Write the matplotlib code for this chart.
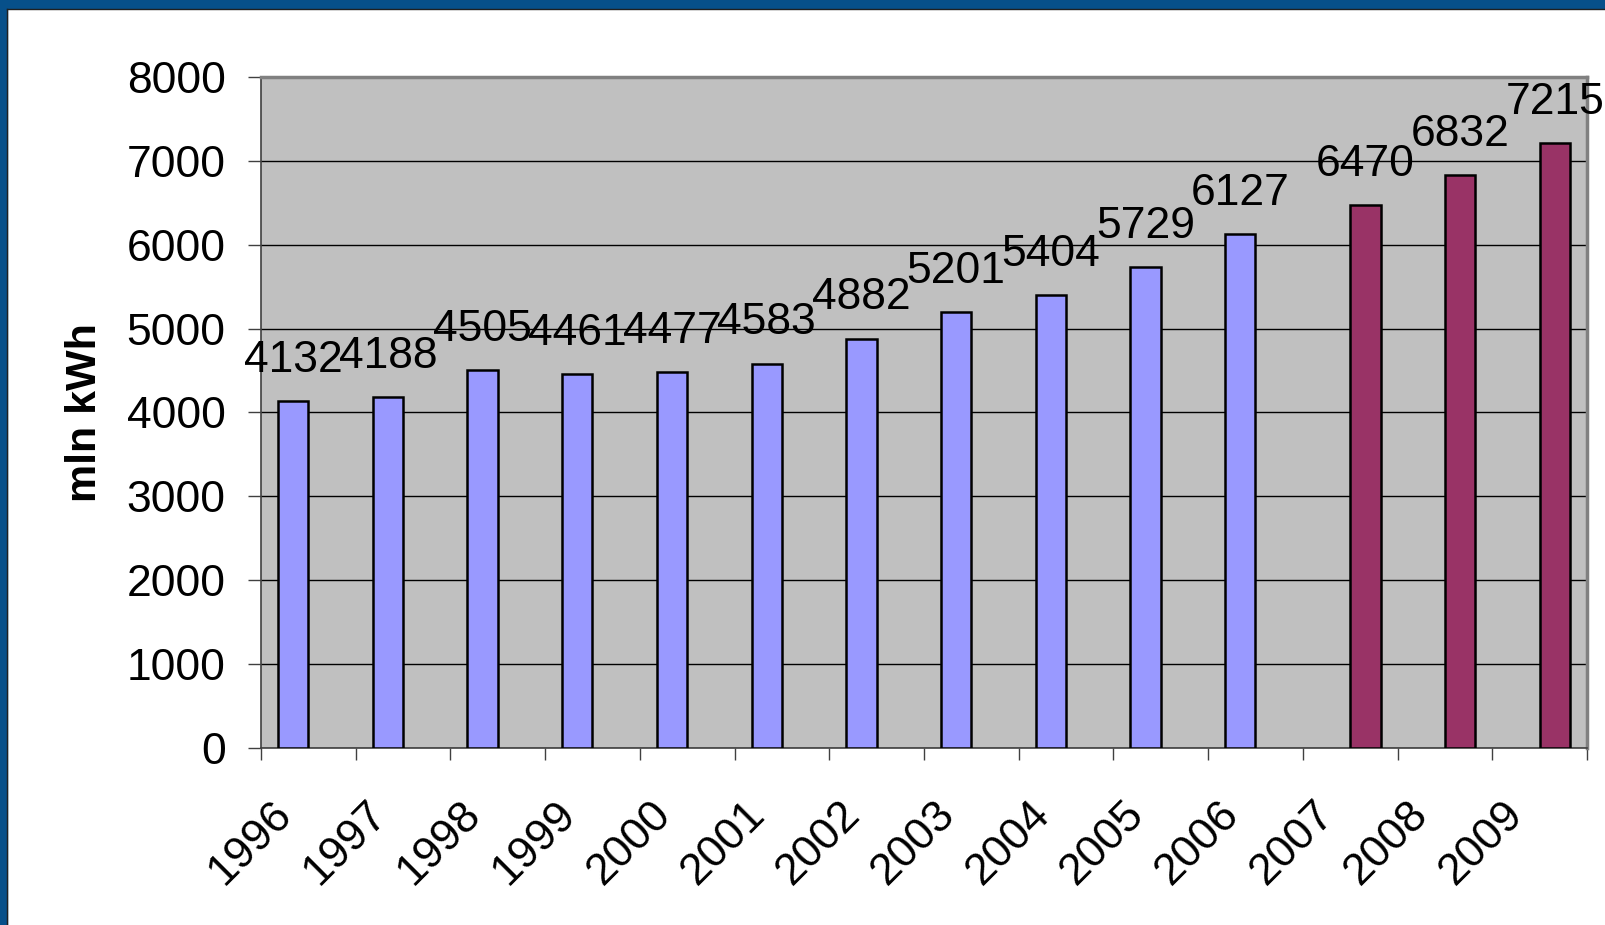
import numpy as np
import matplotlib.pyplot as plt
from matplotlib.patches import Rectangle
from matplotlib.lines import Line2D
from matplotlib.transforms import ScaledTranslation

# chart data
years = ["1996", "1997", "1998", "1999", "2000", "2001", "2002",
         "2003", "2004", "2005", "2006", "2007", "2008", "2009"]
actual_values = [4132, 4188, 4505, 4461, 4477, 4583, 4882,
                 5201, 5404, 5729, 6127]
forecast_values = [6470, 6832, 7215]
y_ticks = [0, 1000, 2000, 3000, 4000, 5000, 6000, 7000, 8000]

BLUE = "#9999FF"
MAROON = "#993366"
FRAME = "#07508A"


def main() -> None:
    plt.rcParams["font.family"] = ["Liberation Sans", "DejaVu Sans"]

    W, H = 1606, 925
    fig = plt.figure(figsize=(W / 100, H / 100), dpi=100)

    # slide frame (blue band on top and left)
    fig.patches.append(Rectangle((0, 1 - 8 / H), 1, 8 / H,
                                 transform=fig.transFigure, color=FRAME))
    fig.patches.append(Rectangle((0, 0), 7 / W, 1,
                                 transform=fig.transFigure, color=FRAME))
    fig.lines.append(Line2D([7 / W, 1], [1 - 8.5 / H, 1 - 8.5 / H],
                            transform=fig.transFigure, color="#202020", lw=1))
    fig.lines.append(Line2D([7.5 / W, 7.5 / W], [0, 1 - 8.5 / H],
                            transform=fig.transFigure, color="#202020", lw=1))

    ax = fig.add_axes([261 / W, 1 - 748 / H, (1587 - 261) / W, (748 - 77) / H])
    ax.set_facecolor("#C0C0C0")

    n = len(years)
    pos = np.arange(n)
    bw = 0.32
    x_act = pos[:len(actual_values)] - bw / 2
    x_fc = pos[len(actual_values):] + bw / 2

    ax.bar(x_act, actual_values, width=bw, color=BLUE,
           edgecolor="black", linewidth=1.8, zorder=3)
    ax.bar(x_fc, forecast_values, width=bw, color=MAROON,
           edgecolor="black", linewidth=1.8, zorder=3)

    # value labels above bars
    for x, v in zip(list(x_act) + list(x_fc), actual_values + forecast_values):
        ax.annotate(str(v), (x, v), xytext=(0, 21),
                    textcoords="offset points", ha="center",
                    va="baseline", fontsize=32, zorder=4)

    ax.set_xlim(-0.5, n - 0.5)
    ax.set_ylim(0, 8000)

    # y axis
    ax.set_yticks(y_ticks)
    ax.tick_params(axis="y", direction="out", length=9.4, width=1,
                   color="#404040", pad=16, labelsize=32)
    ax.yaxis.grid(True, color="black", linewidth=1)
    ax.set_axisbelow(True)

    # x axis: labels at category centers, tick marks at boundaries
    ax.set_xticks(pos)
    ax.set_xticklabels(years, fontsize=32, rotation=45, ha="right",
                       va="center", rotation_mode="anchor")
    ax.set_xticks(np.arange(n + 1) - 0.5, minor=True)
    ax.tick_params(axis="x", which="major", length=0, pad=43)
    ax.tick_params(axis="x", which="minor", direction="out", length=8.6,
                   width=1, color="#404040")
    shift = ScaledTranslation(-0.23, 0, fig.dpi_scale_trans)
    for label in ax.get_xticklabels():
        label.set_transform(label.get_transform() + shift)

    ax.set_ylabel("mln kWh", fontsize=31, fontweight="bold")
    ax.yaxis.set_label_coords(-0.118, 0.5)

    for side in ("left", "bottom"):
        ax.spines[side].set_color("#404040")
        ax.spines[side].set_linewidth(1.2)
    for side in ("top", "right"):
        ax.spines[side].set_color("#808080")
        ax.spines[side].set_linewidth(2.5)

    fig.savefig("out.png", dpi=100)


if __name__ == "__main__":
    main()
